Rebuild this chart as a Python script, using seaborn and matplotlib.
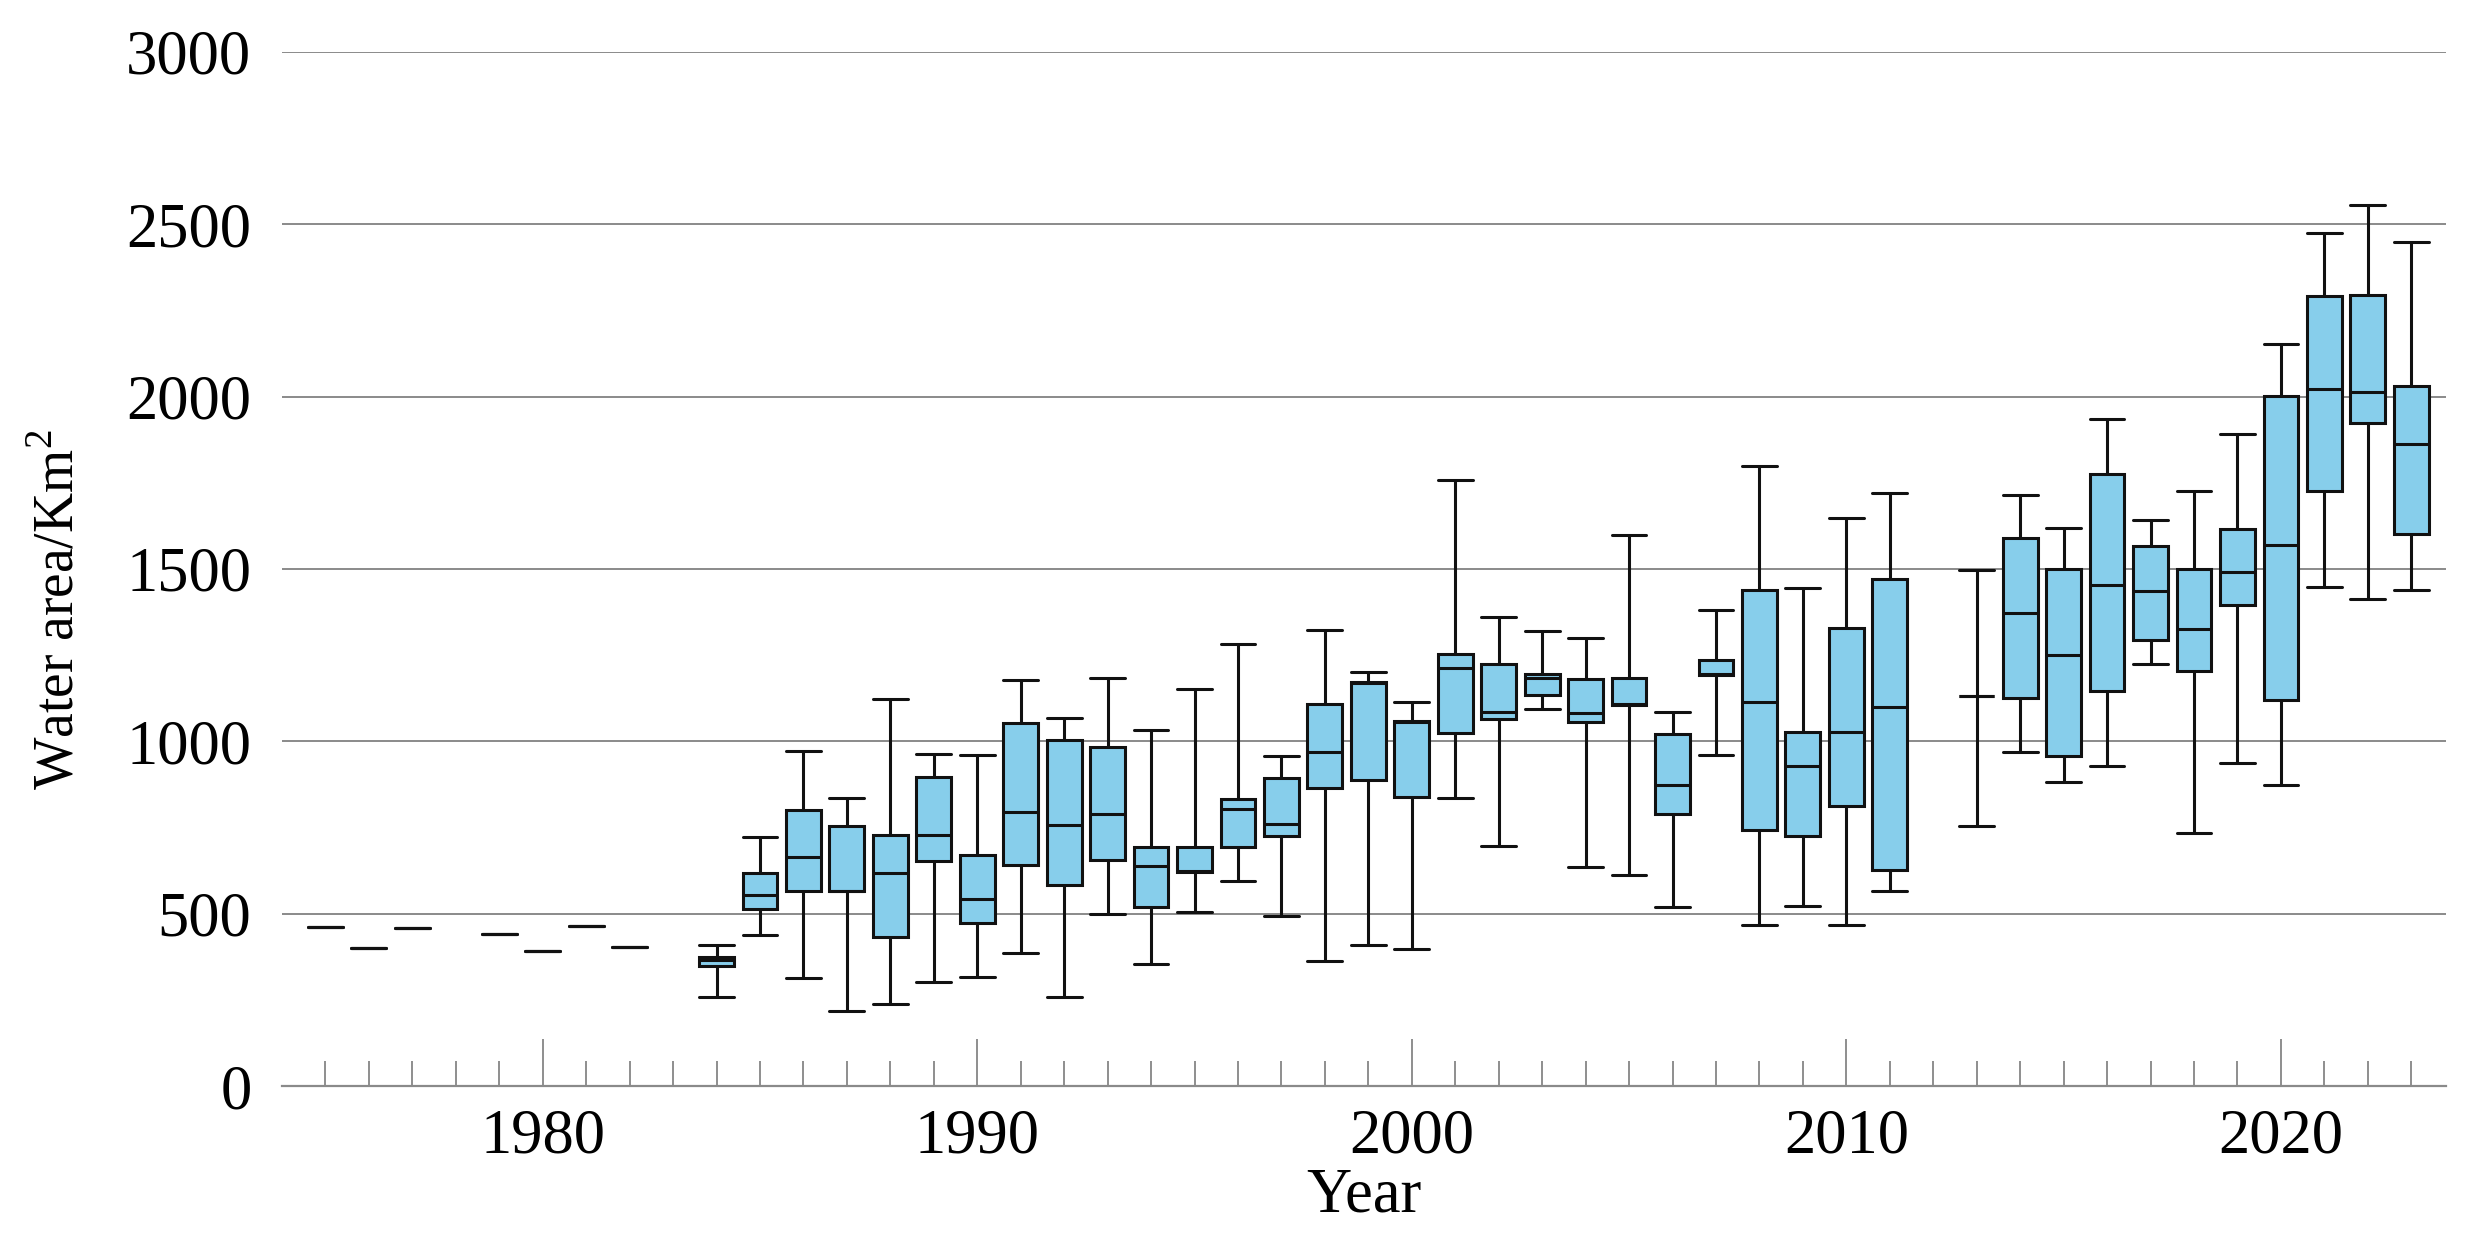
"""
Yearly distribution of water area as box plots (1975-2023).
Each year is given by its five summary values (min, q1, median, q3, max),
so the boxes drawn with whiskers at the full range reproduce them exactly.
"""

import matplotlib.pyplot as plt
import pandas as pd
import seaborn as sns

# settings
BOX_COLOR = '#87CEEB'
LINE_COLOR = '#111111'
GRID_COLOR = '#8a8a8a'
FONT_SIZE = 45

# data: one entry per year with observations
YEARS = [1975, 1976, 1977, 1979, 1980, 1981, 1982,
         1984, 1985, 1986, 1987, 1988, 1989, 1990, 1991, 1992, 1993,
         1994, 1995, 1996, 1997, 1998, 1999, 2000, 2001, 2002, 2003,
         2004, 2005, 2006, 2007, 2008, 2009, 2010, 2011,
         2013, 2014, 2015, 2016, 2017, 2018, 2019, 2020, 2021, 2022, 2023]
WHIS_LO = [461, 400, 457, 440, 393, 463, 404,
           258, 438, 312, 217, 239, 303, 315, 385, 258, 500,
           354, 504, 595, 493, 364, 409, 397, 836, 697, 1093,
           636, 611, 518, 959, 467, 521, 468, 567,
           754, 970, 881, 927, 1223, 734, 937, 873, 1447, 1412, 1438]
Q1 = [461, 400, 457, 440, 393, 463, 404,
      348, 513, 565, 565, 433, 653, 472, 642, 584, 656,
      518, 621, 694, 724, 864, 887, 837, 1024, 1066, 1134,
      1057, 1106, 788, 1193, 744, 725, 812, 626,
      1131, 1125, 956, 1145, 1293, 1203, 1395, 1119, 1725, 1922, 1601]
MEDIAN = [461, 400, 457, 440, 393, 463, 404,
          366, 555, 664, 567, 618, 729, 542, 794, 757, 790,
          639, 623, 805, 761, 969, 1170, 1056, 1212, 1085, 1185,
          1083, 1108, 873, 1195, 1113, 928, 1028, 1098,
          1131, 1371, 1251, 1452, 1437, 1326, 1491, 1570, 2021, 2014, 1863]
Q3 = [461, 400, 457, 440, 393, 463, 404,
      375, 618, 802, 755, 728, 896, 671, 1054, 1004, 982,
      692, 692, 832, 894, 1107, 1172, 1058, 1254, 1225, 1196,
      1181, 1184, 1020, 1236, 1440, 1027, 1330, 1471,
      1131, 1590, 1500, 1776, 1565, 1501, 1615, 2001, 2291, 2295, 2030]
WHIS_HI = [461, 400, 457, 440, 393, 463, 404,
           410, 721, 972, 835, 1123, 964, 959, 1178, 1068, 1184,
           1034, 1153, 1281, 958, 1323, 1200, 1114, 1757, 1360, 1321,
           1299, 1599, 1085, 1382, 1799, 1445, 1648, 1721,
           1496, 1715, 1619, 1935, 1641, 1725, 1890, 2153, 2473, 2556, 2447]

Y_TICKS = [0, 500, 1000, 1500, 2000, 2500, 3000]
X_MAJOR = [1980, 1990, 2000, 2010, 2020]
X_MINOR = list(range(1975, 2024))


def main():
    # long table: five summary values per year
    rows = []
    for i, year in enumerate(YEARS):
        for val in (WHIS_LO[i], Q1[i], MEDIAN[i], Q3[i], WHIS_HI[i]):
            rows.append({'year': year, 'area': val})
    df = pd.DataFrame(rows)

    sns.set_style('white')
    plt.rcParams['font.family'] = ['Liberation Serif', 'DejaVu Serif']
    plt.rcParams['mathtext.fontset'] = 'custom'
    plt.rcParams['mathtext.rm'] = 'Liberation Serif'
    plt.rcParams['text.color'] = 'black'
    plt.rcParams['axes.labelcolor'] = 'black'

    fig = plt.figure(figsize=(24.82, 12.33), dpi=100)
    ax = fig.add_axes([0.1136, 0.1192, 0.8719, 0.8388])

    sns.boxplot(data=df, x='year', y='area', native_scale=True,
                whis=(0, 100), width=0.8, color=BOX_COLOR, saturation=1,
                linecolor=LINE_COLOR, linewidth=2.2, capwidths=0.8, ax=ax)

    # axes limits and ticks
    ax.set_xlim(1974, 2023.8)
    ax.set_ylim(0, 3000)
    ax.set_yticks(Y_TICKS)
    ax.set_xticks(X_MAJOR)
    ax.set_xticks(X_MINOR, minor=True)
    ax.set_xticklabels([str(x) for x in X_MAJOR])

    ax.tick_params(axis='y', left=False, length=0, pad=22,
                   labelsize=FONT_SIZE, labelcolor='black')
    ax.tick_params(axis='x', which='major', bottom=True, direction='in',
                   length=34, width=1.1, color='#707070', pad=16,
                   labelsize=FONT_SIZE, labelcolor='black')
    ax.tick_params(axis='x', which='minor', bottom=True, direction='in',
                   length=18, width=1.1, color='#707070')

    # grid and spines
    ax.set_axisbelow(True)
    ax.yaxis.grid(True, color=GRID_COLOR, linewidth=1.4)
    for side in ['left', 'right', 'top']:
        ax.spines[side].set_visible(False)
    ax.spines['bottom'].set_color(GRID_COLOR)
    ax.spines['bottom'].set_linewidth(1.6)

    # labels
    ax.set_xlabel('Year', fontsize=FONT_SIZE, labelpad=1)
    ax.set_ylabel('Water area/Km$^{\\mathrm{2}}$', fontsize=40)
    ax.yaxis.set_label_coords(-0.091, 0.46)

    fig.savefig('out.png', dpi=100)
    plt.close('all')


if __name__ == "__main__":
    main()
